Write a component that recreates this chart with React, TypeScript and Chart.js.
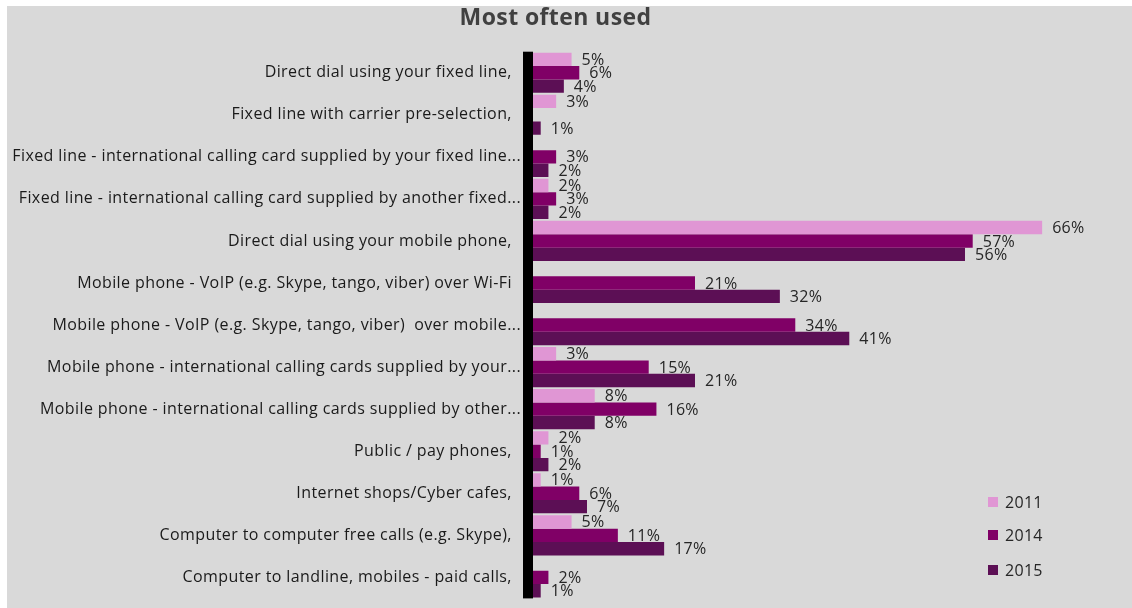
import React, { useEffect, useRef } from "react";
import { Chart, registerables } from "chart.js";

Chart.register(...registerables);

const categories: string[] = [
  "Direct dial using your fixed line,  ",
  "Fixed line with carrier pre-selection,  ",
  "Fixed line - international calling card supplied by your fixed line...",
  "Fixed line - international calling card supplied by another fixed...",
  "Direct dial using your mobile phone,  ",
  "Mobile phone - VoIP (e.g. Skype, tango, viber) over Wi-Fi  ",
  "Mobile phone - VoIP (e.g. Skype, tango, viber)  over mobile...",
  "Mobile phone - international calling cards supplied by your...",
  "Mobile phone - international calling cards supplied by other...",
  "Public / pay phones,  ",
  "Internet shops/Cyber cafes,  ",
  "Computer to computer free calls (e.g. Skype),  ",
  "Computer to landline, mobiles - paid calls,  ",
];

const values2011: (number | null)[] = [5, 3, null, 2, 66, null, null, 3, 8, 2, 1, 5, null];
const values2014: (number | null)[] = [6, null, 3, 3, 57, 21, 34, 15, 16, 1, 6, 11, 2];
const values2015: (number | null)[] = [4, 1, 2, 2, 56, 32, 41, 21, 8, 2, 7, 17, 1];

const seriesLabels: string[] = ["2011", "2014", "2015"];
const seriesColors: string[] = ["#e096d4", "#800066", "#5c0f55"];
const titleText = "Most often used";

const FONT = "'Open Sans', Lato, sans-serif";

const decorPlugin = {
  id: "decor",
  beforeDraw(chart: any) {
    const { ctx, width, height } = chart;
    ctx.save();
    ctx.fillStyle = "#ffffff";
    ctx.fillRect(0, 0, width, height);
    ctx.fillStyle = "#d9d9d9";
    ctx.fillRect(7, 6, width - 7, height - 6);
    // title
    ctx.fillStyle = "#404040";
    ctx.font = `bold 23px ${FONT}`;
    (ctx as any).letterSpacing = "0.4px";
    ctx.textAlign = "center";
    ctx.textBaseline = "middle";
    ctx.fillText(titleText, 555.5, 18);
    ctx.restore();
    (ctx as any).letterSpacing = "0.4px";
  },
  afterDatasetsDraw(chart: any) {
    const { ctx, chartArea } = chart;
    ctx.save();
    // thick axis line
    ctx.fillStyle = "#000000";
    ctx.fillRect(chartArea.left - 10, chartArea.top, 10, chartArea.bottom - chartArea.top);
    // data labels
    ctx.font = `16px ${FONT}`;
    (ctx as any).letterSpacing = "0.3px";
    ctx.fillStyle = "#262626";
    ctx.textAlign = "left";
    ctx.textBaseline = "middle";
    chart.data.datasets.forEach((ds: any, di: number) => {
      const meta = chart.getDatasetMeta(di);
      meta.data.forEach((el: any, i: number) => {
        const v = ds.data[i];
        if (v === null || v === undefined) return;
        ctx.fillText(`${v}%`, el.x + 10, el.y + 1);
      });
    });
    // legend
    const legendY = [502, 535, 570];
    seriesLabels.forEach((lab, i) => {
      ctx.fillStyle = seriesColors[i];
      ctx.fillRect(988, legendY[i] - 5, 10, 10);
      ctx.fillStyle = "#262626";
      ctx.fillText(lab, 1005, legendY[i] + 1);
    });
    ctx.restore();
  },
};

export default function App() {
  const ref = useRef<HTMLCanvasElement | null>(null);
  useEffect(() => {
    if (!ref.current) return;
    const chart = new Chart(ref.current, {
      type: "bar",
      data: {
        labels: categories,
        datasets: seriesLabels.map((lab, i) => ({
          label: lab,
          data: [values2011, values2014, values2015][i],
          backgroundColor: seriesColors[i],
          borderWidth: 0,
          categoryPercentage: 0.955,
          barPercentage: 1,
        })),
      },
      options: {
        indexAxis: "y",
        animation: false,
        responsive: false,
        maintainAspectRatio: false,
        layout: { padding: { left: 0, right: 59, top: 51.7, bottom: 11 } },
        plugins: {
          legend: { display: false },
          title: { display: false },
          tooltip: { enabled: false },
        },
        scales: {
          x: { display: false, min: 0, max: 70 },
          y: {
            grid: { display: false, drawTicks: false },
            border: { display: false },
            ticks: {
              autoSkip: false,
              padding: 12,
              color: "#1a1a1a",
              font: { family: FONT, size: 16 },
            },
            afterFit(scale: any) {
              scale.width = 533;
            },
          },
        },
      },
      plugins: [decorPlugin],
    } as any);
    return () => chart.destroy();
  }, []);
  return (
    <div style={{ position: "fixed", left: 0, top: 0, width: 1132, height: 608, overflow: "hidden", background: "#fff" }}>
      <canvas ref={ref} width={1132} height={620} style={{ width: 1132, height: 620, display: "block" }} />
    </div>
  );
}
